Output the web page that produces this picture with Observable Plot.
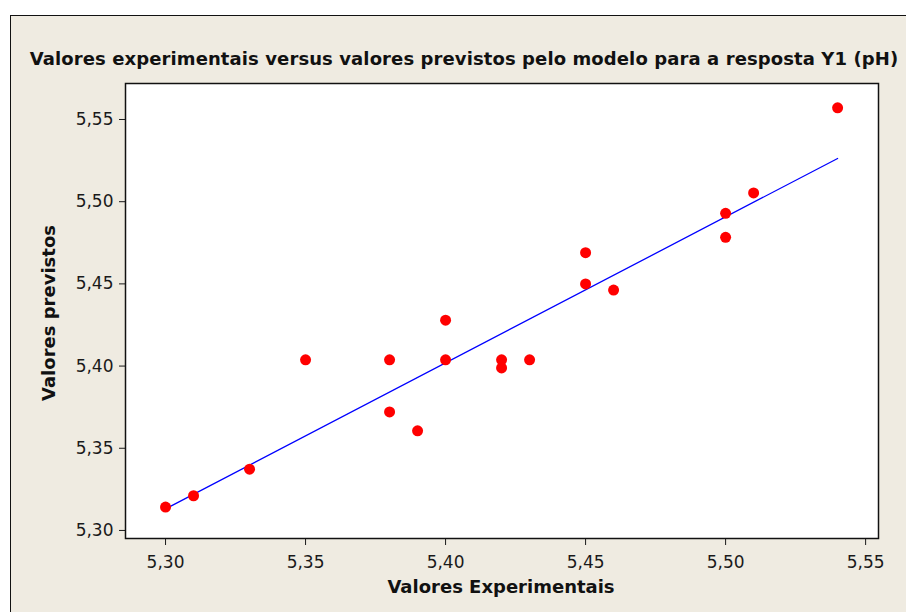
<!DOCTYPE html>
<html>
<head>
<meta charset="utf-8">
<script src="https://cdn.jsdelivr.net/npm/d3@7"></script>
<script src="https://cdn.jsdelivr.net/npm/@observablehq/plot@0.6"></script>
<style>
  html, body { margin: 0; padding: 0; background: #ffffff; }
  #fig {
    position: absolute; left: 10px; top: 15px;
    width: 896px; height: 597px;
    background: #EFEBE1;
    border-top: 1px solid #111; border-left: 1px solid #111;
    overflow: hidden;
  }
  #fig svg { position: absolute; left: 0; top: 0; }
  .lbl {
    position: absolute; font-family: "DejaVu Sans", sans-serif; font-weight: bold;
    font-size: 18px; line-height: 18px; color: #111; white-space: nowrap;
  }
  #title { left: 453px; top: 34px; transform: translateX(-50%); letter-spacing: 0.1px; }
  #xlabel { left: 490px; top: 562px; transform: translateX(-50%); }
  #ylabel { left: 38px; top: 297px; transform: translate(-50%, -50%) rotate(-90deg); }
</style>
</head>
<body>
<div id="fig">
  <div class="lbl" id="title">Valores experimentais versus valores previstos pelo modelo para a resposta Y1 (pH)</div>
  <div class="lbl" id="xlabel">Valores Experimentais</div>
  <div class="lbl" id="ylabel">Valores previstos</div>
</div>
<script>
// Data
const experimental = [5.30, 5.31, 5.33, 5.35, 5.38, 5.38, 5.39, 5.40, 5.40, 5.42, 5.42, 5.43, 5.45, 5.45, 5.46, 5.50, 5.50, 5.51, 5.54];
const predicted    = [5.3142, 5.3211, 5.3373, 5.4038, 5.4038, 5.3721, 5.3606, 5.4279, 5.4038, 5.4038, 5.3989, 5.4038, 5.4690, 5.4500, 5.4462, 5.4929, 5.4783, 5.5053, 5.5571];
// Fitted line end points
const fitX = [5.30, 5.54];
const fitY = [5.3131, 5.5263];
// Axis ticks
const xTicks = [5.30, 5.35, 5.40, 5.45, 5.50, 5.55];
const yTicks = [5.30, 5.35, 5.40, 5.45, 5.50, 5.55];

const points = experimental.map((x, i) => ({x, y: predicted[i]}));
const fit = fitX.map((x, i) => ({x, y: fitY[i]}));
const fmt = d => d.toFixed(2).replace(".", ",");

const chart = Plot.plot({
  width: 895,
  height: 596,
  marginLeft: 114,
  marginTop: 67,
  marginRight: 28,
  marginBottom: 74,
  style: { background: "transparent", fontFamily: "DejaVu Sans, sans-serif", fontSize: "17px", color: "#1a1a1a", overflow: "visible" },
  x: { domain: [5.2857, 5.5546], ticks: xTicks, tickFormat: fmt, tickSize: 7, tickPadding: 10, label: null },
  y: { domain: [5.2951, 5.5719], ticks: yTicks, tickFormat: fmt, tickSize: 6, tickPadding: 6, label: null },
  marks: [
    Plot.frame({ fill: "white", stroke: null }),
    Plot.line(fit, { x: "x", y: "y", stroke: "#0000FF", strokeWidth: 1.3 }),
    Plot.dot(points, { x: "x", y: "y", r: 5.5, fill: "#FF0000", stroke: null }),
    Plot.frame({ stroke: "#111", strokeWidth: 1.5 })
  ]
});
document.getElementById("fig").prepend(chart);
</script>
</body>
</html>
